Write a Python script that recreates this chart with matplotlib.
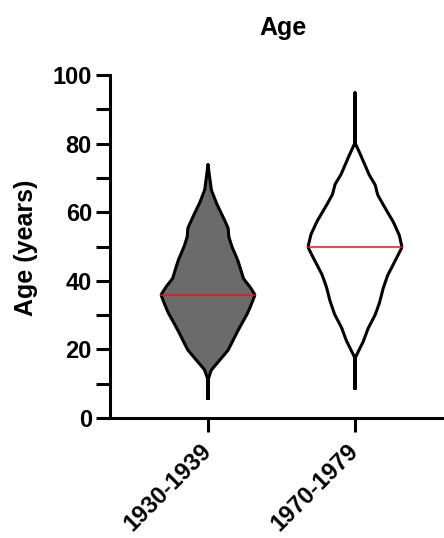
import numpy as np
import matplotlib
matplotlib.use("Agg")
import matplotlib.pyplot as plt
from matplotlib import font_manager as fm
from matplotlib.ticker import MultipleLocator
import matplotlib.transforms as mtransforms

bold_path = None
for f in fm.fontManager.ttflist:
    if f.name == 'Liberation Sans' and f.weight in (700, 'bold') and f.style == 'normal' \
            and 'Narrow' not in f.fname:
        bold_path = f.fname
        break
fp = lambda size: (fm.FontProperties(fname=bold_path, size=size) if bold_path
                   else fm.FontProperties(family='DejaVu Sans', weight='bold', size=size))

categories = ["1930-1939", "1970-1979"]
medians = [36, 50]

# violin profiles: age levels and relative density (half-width, max = 1)
ages_1930 = [5.7, 11.1, 14.0, 16.9, 19.8, 23.7, 26.6, 30.5, 33.4, 35.9, 38.3,
             40.7, 43.1, 46.1, 49.9, 52.9, 55.3, 58.7, 62.6, 66.5, 73.8]
dens_1930 = [0, 0.0, 0.07, 0.25, 0.43, 0.57, 0.68, 0.84, 0.93, 1.0, 0.89,
             0.75, 0.70, 0.63, 0.51, 0.44, 0.43, 0.32, 0.18, 0.07, 0]
ages_1970 = [8.7, 17.5, 19.4, 22.4, 26.2, 30.1, 34.0, 37.9, 41.8, 45.7, 49.8,
             53.4, 57.3, 61.2, 65.1, 68.0, 70.9, 74.8, 78.2, 80.2, 94.8]
dens_1970 = [0, 0.0, 0.07, 0.18, 0.28, 0.43, 0.53, 0.60, 0.70, 0.85, 1.0,
             0.94, 0.81, 0.64, 0.48, 0.43, 0.30, 0.18, 0.07, 0.0, 0]

profiles = [(ages_1930, dens_1930), (ages_1970, dens_1970)]
fills = ["#6b6b6b", "#ffffff"]

fig = plt.figure(figsize=(4.44, 5.38), dpi=100)
ax = fig.add_axes([110/444, 120/538, 1 - 110/444, 343/538])

max_half = 0.32
lw = 2.2
for i, (ages, dens) in enumerate(profiles):
    a = np.asarray(ages, float)
    d = np.asarray(dens, float)
    yy = np.linspace(a[0], a[-1], 600)
    ww = np.interp(yy, a, d)
    k = 7
    ker = np.ones(k) / k
    ww = np.convolve(np.pad(ww, k // 2, mode='edge'), ker, mode='valid')
    ww[ww < 0.004] = 0
    hw = ww * max_half
    ax.fill_betweenx(yy, i - hw, i + hw, facecolor=fills[i], edgecolor='none', zorder=2)
    xs = np.concatenate([i - hw, (i + hw)[::-1], [i - hw[0]]])
    ys = np.concatenate([yy, yy[::-1], [yy[0]]])
    ax.plot(xs, ys, color='black', lw=lw, solid_joinstyle='round', zorder=3)
    m = medians[i]
    hm = np.interp(m, yy, hw)
    ax.plot([i - hm, i + hm], [m, m], color='#ee1111', lw=1.1, zorder=4)

ax.set_xlim(-98/147, 1 + 89/147)
ax.set_ylim(0, 100)
ax.set_xticks([0, 1])
ax.set_xticklabels(categories, rotation=45, ha='right', va='center',
                   rotation_mode='anchor', fontproperties=fp(17))
shift = mtransforms.ScaledTranslation(-3/100, 0, fig.dpi_scale_trans)
for lab in ax.get_xticklabels():
    lab.set_transform(lab.get_transform() + shift)
ax.yaxis.set_major_locator(MultipleLocator(20))
ax.yaxis.set_minor_locator(MultipleLocator(10))
ax.tick_params(axis='y', which='both', length=10, width=lw, pad=3)
ax.tick_params(axis='x', length=10, width=lw, pad=11)
for lab in ax.get_yticklabels():
    lab.set_fontproperties(fp(17))
for s in ['top', 'right']:
    ax.spines[s].set_visible(False)
for s in ['left', 'bottom']:
    ax.spines[s].set_linewidth(lw)
ax.set_ylabel("Age (years)", fontproperties=fp(18))
ax.yaxis.set_label_coords(-72/334, (418 - 247.5) / 343)
fig.text(283/444, 1 - 28/538, "Age", ha='center', va='center', fontproperties=fp(18))

fig.savefig("out.png", dpi=100)
